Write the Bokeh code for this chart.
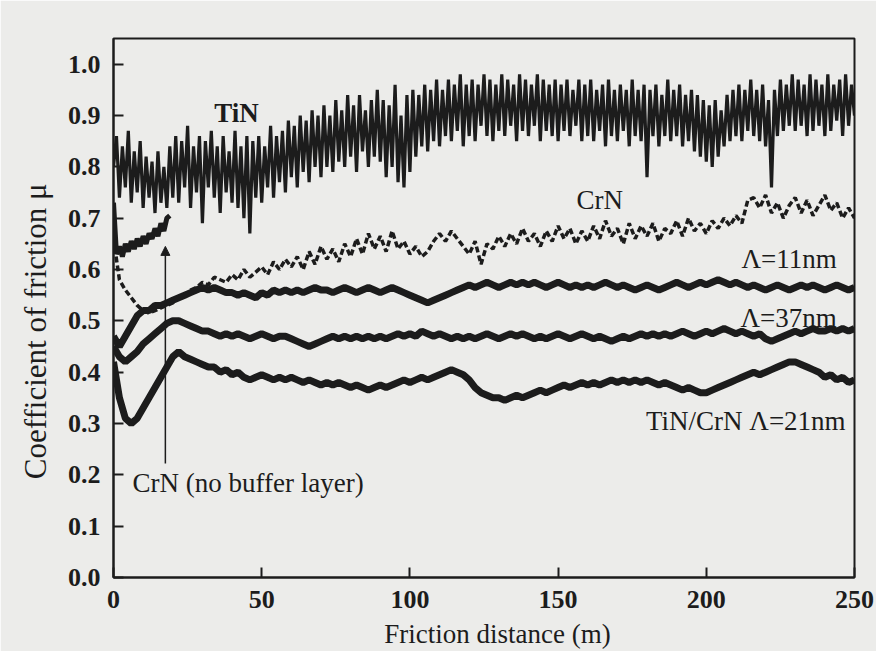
from bokeh.plotting import figure
from bokeh.models import Label, Arrow, NormalHead, Range1d, FixedTicker, PrintfTickFormatter
from bokeh.embed import file_html
from bokeh.resources import INLINE

# Friction distance sampling (m)
distance_1m = list(range(0, 251))
distance_2m = list(range(0, 251, 2))
distance_nobuf = list(range(0, 20))

# TiN single layer coating, coefficient of friction (1 m steps)
tin = [
    0.80, 0.86, 0.74, 0.84, 0.76, 0.87, 0.73, 0.83, 0.75, 0.85,
    0.72, 0.82, 0.74, 0.81, 0.71, 0.83, 0.73, 0.80, 0.72, 0.84,
    0.74, 0.86, 0.73, 0.85, 0.76, 0.88, 0.72, 0.84, 0.75, 0.86,
    0.69, 0.85, 0.76, 0.87, 0.74, 0.84, 0.71, 0.86, 0.75, 0.83,
    0.73, 0.87, 0.72, 0.84, 0.70, 0.86, 0.67, 0.85, 0.74, 0.86,
    0.73, 0.84, 0.76, 0.88, 0.74, 0.86, 0.77, 0.87, 0.75, 0.89,
    0.78, 0.88, 0.76, 0.90, 0.79, 0.89, 0.77, 0.91, 0.80, 0.90,
    0.78, 0.92, 0.80, 0.90, 0.79, 0.93, 0.81, 0.91, 0.80, 0.94,
    0.82, 0.92, 0.79, 0.94, 0.83, 0.91, 0.80, 0.93, 0.82, 0.95,
    0.81, 0.93, 0.78, 0.92, 0.80, 0.96, 0.77, 0.90, 0.76, 0.94,
    0.79, 0.95, 0.82, 0.94, 0.84, 0.96, 0.83, 0.95, 0.85, 0.97,
    0.84, 0.95, 0.86, 0.97, 0.85, 0.96, 0.87, 0.98, 0.84, 0.96,
    0.86, 0.97, 0.85, 0.96, 0.88, 0.98, 0.86, 0.97, 0.85, 0.96,
    0.87, 0.98, 0.86, 0.97, 0.88, 0.96, 0.85, 0.98, 0.87, 0.97,
    0.86, 0.96, 0.88, 0.98, 0.85, 0.97, 0.87, 0.96, 0.86, 0.97,
    0.85, 0.96, 0.87, 0.97, 0.86, 0.95, 0.88, 0.97, 0.85, 0.96,
    0.86, 0.97, 0.85, 0.95, 0.87, 0.96, 0.84, 0.97, 0.86, 0.95,
    0.85, 0.96, 0.87, 0.95, 0.84, 0.97, 0.86, 0.95, 0.85, 0.96,
    0.78, 0.95, 0.86, 0.96, 0.84, 0.94, 0.86, 0.97, 0.85, 0.95,
    0.86, 0.96, 0.84, 0.94, 0.85, 0.95, 0.83, 0.94, 0.82, 0.93,
    0.81, 0.92, 0.80, 0.93, 0.82, 0.91, 0.84, 0.94, 0.85, 0.95,
    0.86, 0.96, 0.85, 0.95, 0.87, 0.97, 0.86, 0.95, 0.85, 0.96,
    0.84, 0.93, 0.76, 0.95, 0.86, 0.97, 0.87, 0.96, 0.88, 0.98,
    0.87, 0.97, 0.88, 0.96, 0.86, 0.98, 0.87, 0.97, 0.88, 0.96,
    0.86, 0.98, 0.87, 0.96, 0.89, 0.97, 0.86, 0.98, 0.88, 0.96,
    0.90,
]

# CrN single layer coating (2 m steps)
crn = [
    0.66, 0.58, 0.56, 0.545, 0.53, 0.52, 0.515, 0.52, 0.525, 0.53,
    0.535, 0.545, 0.55, 0.56, 0.565, 0.575, 0.57, 0.585, 0.58, 0.575,
    0.59, 0.58, 0.60, 0.585, 0.595, 0.605, 0.59, 0.615, 0.60, 0.62,
    0.605, 0.625, 0.60, 0.635, 0.61, 0.645, 0.62, 0.64, 0.615, 0.65,
    0.625, 0.66, 0.63, 0.67, 0.64, 0.665, 0.635, 0.675, 0.64, 0.655,
    0.63, 0.645, 0.625, 0.635, 0.655, 0.67, 0.655, 0.675, 0.66, 0.645,
    0.63, 0.655, 0.61, 0.65, 0.64, 0.665, 0.645, 0.67, 0.65, 0.68,
    0.655, 0.67, 0.645, 0.675, 0.655, 0.685, 0.66, 0.68, 0.65, 0.675,
    0.655, 0.685, 0.66, 0.695, 0.665, 0.68, 0.65, 0.69, 0.66, 0.685,
    0.665, 0.69, 0.655, 0.68, 0.67, 0.695, 0.665, 0.70, 0.675, 0.69,
    0.67, 0.695, 0.68, 0.70, 0.685, 0.705, 0.69, 0.735, 0.74, 0.72,
    0.745, 0.71, 0.73, 0.70, 0.725, 0.74, 0.71, 0.735, 0.705, 0.725,
    0.745, 0.715, 0.73, 0.70, 0.72, 0.70,
]

# TiN/CrN multilayer, period 11 nm (2 m steps)
lam11 = [
    0.47, 0.45, 0.47, 0.49, 0.51, 0.52, 0.52, 0.53, 0.53, 0.535,
    0.54, 0.545, 0.55, 0.555, 0.56, 0.565, 0.56, 0.565, 0.56, 0.555,
    0.555, 0.55, 0.555, 0.55, 0.545, 0.555, 0.55, 0.56, 0.555, 0.56,
    0.555, 0.56, 0.555, 0.56, 0.565, 0.56, 0.56, 0.555, 0.56, 0.565,
    0.56, 0.555, 0.56, 0.565, 0.56, 0.555, 0.56, 0.565, 0.56, 0.555,
    0.55, 0.545, 0.54, 0.535, 0.54, 0.545, 0.55, 0.555, 0.56, 0.565,
    0.57, 0.565, 0.57, 0.575, 0.57, 0.565, 0.57, 0.575, 0.57, 0.575,
    0.57, 0.575, 0.57, 0.565, 0.57, 0.575, 0.57, 0.565, 0.57, 0.565,
    0.57, 0.565, 0.57, 0.575, 0.57, 0.565, 0.57, 0.565, 0.56, 0.565,
    0.57, 0.565, 0.56, 0.565, 0.57, 0.575, 0.57, 0.565, 0.57, 0.575,
    0.57, 0.575, 0.58, 0.575, 0.57, 0.575, 0.57, 0.565, 0.57, 0.565,
    0.56, 0.565, 0.57, 0.565, 0.56, 0.565, 0.57, 0.565, 0.57, 0.565,
    0.56, 0.565, 0.57, 0.565, 0.56, 0.565,
]

# TiN/CrN multilayer, period 37 nm (2 m steps)
lam37 = [
    0.45, 0.43, 0.42, 0.43, 0.44, 0.455, 0.465, 0.475, 0.485, 0.495,
    0.50, 0.50, 0.495, 0.49, 0.485, 0.48, 0.48, 0.475, 0.47, 0.475,
    0.47, 0.475, 0.47, 0.465, 0.47, 0.475, 0.47, 0.465, 0.47, 0.47,
    0.465, 0.46, 0.455, 0.45, 0.455, 0.46, 0.465, 0.47, 0.465, 0.47,
    0.465, 0.47, 0.465, 0.47, 0.465, 0.47, 0.465, 0.47, 0.475, 0.47,
    0.475, 0.47, 0.48, 0.475, 0.47, 0.475, 0.47, 0.465, 0.47, 0.465,
    0.47, 0.465, 0.47, 0.475, 0.47, 0.465, 0.47, 0.475, 0.47, 0.475,
    0.47, 0.465, 0.47, 0.465, 0.47, 0.475, 0.47, 0.465, 0.47, 0.475,
    0.47, 0.465, 0.47, 0.465, 0.46, 0.465, 0.47, 0.465, 0.47, 0.475,
    0.47, 0.475, 0.47, 0.475, 0.47, 0.475, 0.48, 0.475, 0.47, 0.475,
    0.48, 0.475, 0.48, 0.485, 0.48, 0.475, 0.48, 0.475, 0.47, 0.475,
    0.465, 0.46, 0.465, 0.47, 0.475, 0.48, 0.475, 0.48, 0.485, 0.48,
    0.48, 0.485, 0.48, 0.485, 0.48, 0.485,
]

# TiN/CrN multilayer, period 21 nm (2 m steps)
lam21 = [
    0.42, 0.35, 0.31, 0.30, 0.31, 0.33, 0.35, 0.37, 0.39, 0.41,
    0.43, 0.44, 0.43, 0.425, 0.42, 0.415, 0.41, 0.41, 0.40, 0.405,
    0.395, 0.40, 0.39, 0.385, 0.39, 0.395, 0.39, 0.385, 0.39, 0.385,
    0.39, 0.385, 0.38, 0.385, 0.38, 0.375, 0.38, 0.375, 0.38, 0.375,
    0.37, 0.375, 0.37, 0.365, 0.37, 0.375, 0.37, 0.375, 0.38, 0.385,
    0.38, 0.385, 0.39, 0.385, 0.39, 0.395, 0.40, 0.405, 0.40, 0.395,
    0.385, 0.37, 0.36, 0.355, 0.35, 0.35, 0.345, 0.35, 0.355, 0.35,
    0.355, 0.36, 0.365, 0.36, 0.365, 0.37, 0.375, 0.37, 0.375, 0.38,
    0.375, 0.38, 0.375, 0.38, 0.385, 0.38, 0.385, 0.38, 0.385, 0.38,
    0.385, 0.38, 0.375, 0.38, 0.375, 0.37, 0.365, 0.37, 0.365, 0.36,
    0.36, 0.365, 0.37, 0.375, 0.38, 0.385, 0.39, 0.395, 0.40, 0.395,
    0.40, 0.405, 0.41, 0.415, 0.42, 0.42, 0.415, 0.41, 0.405, 0.40,
    0.39, 0.395, 0.385, 0.39, 0.38, 0.385,
]

# CrN without buffer layer, fails after about 19 m (1 m steps)
crn_nobuf = [
    0.73, 0.63, 0.645, 0.625, 0.65, 0.635, 0.655, 0.64, 0.66, 0.645,
    0.665, 0.65, 0.67, 0.66, 0.68, 0.665, 0.69, 0.675, 0.70, 0.705,
]

x_ticks = [0, 50, 100, 150, 200, 250]
y_ticks = [0.0, 0.1, 0.2, 0.3, 0.4, 0.5, 0.6, 0.7, 0.8, 0.9, 1.0]

INK = "#1c1c1c"
PAPER = "#ececea"
SERIF = "Liberation Serif"
NBSP = "\u00a0"

p = figure(
    width=876, height=651,
    x_range=Range1d(0, 250), y_range=Range1d(0, 1.05),
    output_backend="svg", toolbar_location=None,
    min_border_left=113, min_border_right=22,
    min_border_top=38, min_border_bottom=74,
    background_fill_color=PAPER, border_fill_color=PAPER,
    outline_line_color=INK, outline_line_width=2,
)
p.grid.visible = False

# friction traces
p.line(distance_1m, tin, line_color=INK, line_width=3.2)
p.line(distance_2m, crn, line_color=INK, line_width=3.5, line_dash="6 3")
p.line(distance_2m, lam11, line_color=INK, line_width=7)
p.line(distance_2m, lam37, line_color=INK, line_width=7)
p.line(distance_2m, lam21, line_color=INK, line_width=7)
p.line(distance_nobuf, crn_nobuf, line_color=INK, line_width=5)

# axes: inward ticks on the left and bottom only
for ax in (p.xaxis[0], p.yaxis[0]):
    ax.major_tick_in = 10
    ax.major_tick_out = 0
    ax.minor_tick_line_color = None
    ax.axis_line_width = 2
    ax.axis_line_color = INK
    ax.major_tick_line_color = INK
    ax.major_tick_line_width = 2
    ax.major_label_text_font = SERIF
    ax.major_label_text_font_style = "bold"
    ax.major_label_text_font_size = "26px"
    ax.major_label_text_color = INK
    ax.major_label_standoff = 13
    ax.axis_label_text_font = SERIF
    ax.axis_label_text_font_style = "normal"
    ax.axis_label_text_color = INK

p.xaxis.ticker = FixedTicker(ticks=x_ticks)
p.yaxis.ticker = FixedTicker(ticks=y_ticks)
p.yaxis.formatter = PrintfTickFormatter(format="%.1f")

# axis titles (non-breaking padding nudges them off the frame centre)
p.xaxis.axis_label = NBSP * 4 + "Friction distance (m)"
p.xaxis.axis_label_text_font_size = "27px"
p.xaxis.axis_label_standoff = 8
p.yaxis.axis_label = "Coefficient of friction  \u03bc" + NBSP * 5
p.yaxis.axis_label_text_font_size = "31px"
p.yaxis.axis_label_standoff = 12

# curve annotations
def note(x, y, text, align="left", style="normal"):
    p.add_layout(Label(x=x, y=y, text=text, text_font=SERIF,
                       text_font_size="27px", text_font_style=style,
                       text_color=INK, text_align=align,
                       text_baseline="middle"))

note(41.5, 0.905, "TiN", align="center", style="bold")
note(156.2, 0.735, "CrN")
note(244.0, 0.62, "\u039b=11nm", align="right")
note(244.0, 0.505, "\u039b=37nm", align="right")
note(247.0, 0.305, "TiN/CrN \u039b=21nm", align="right")
note(6.4, 0.185, "CrN (no buffer layer)")

p.add_layout(Arrow(end=NormalHead(size=9, fill_color=INK, line_color=INK),
                   x_start=17.5, y_start=0.222, x_end=17.5, y_end=0.645,
                   line_color=INK, line_width=1.5))

open("out.html", "w").write(file_html(p, INLINE))
